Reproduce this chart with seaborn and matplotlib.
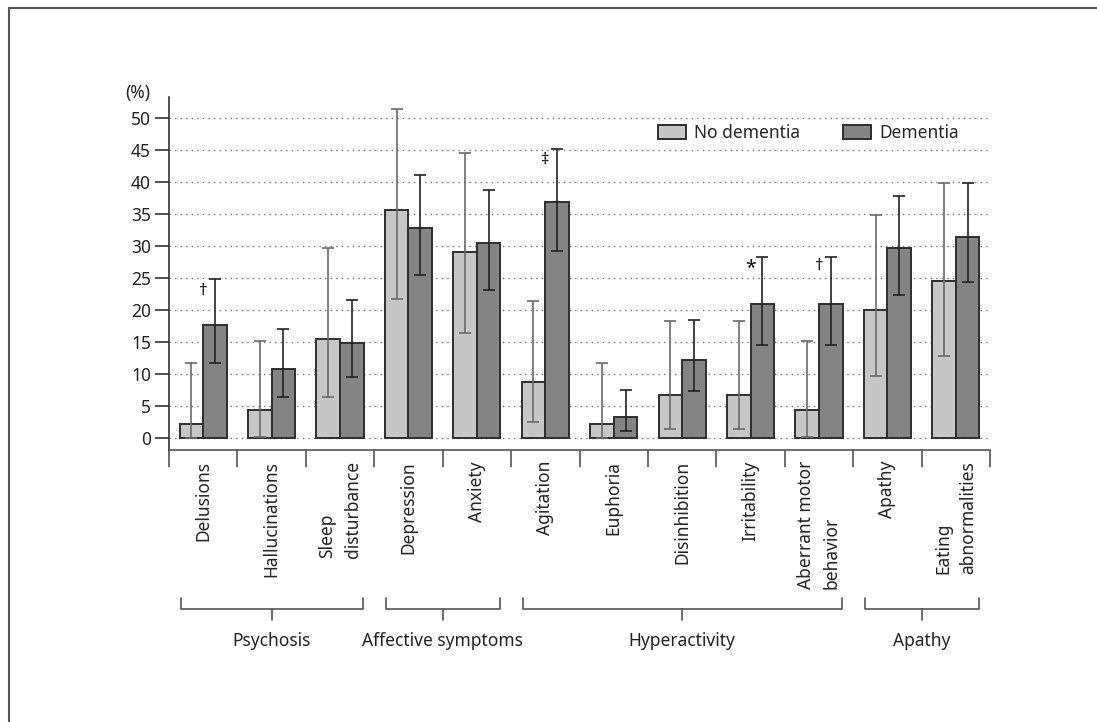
#libraries

import pandas as pd
import numpy as np
import matplotlib
matplotlib.use("Agg")
import matplotlib.pyplot as plt
import matplotlib.transforms as mtransforms
import matplotlib.patches as mpatches
from matplotlib.lines import Line2D
import seaborn as sns

# data (%, with lower / upper CI ends)

symptoms = ["Delusions", "Hallucinations", "Sleep\ndisturbance", "Depression", "Anxiety",
            "Agitation", "Euphoria", "Disinhibition", "Irritability", "Aberrant motor\nbehavior",
            "Apathy", "Eating\nabnormalities"]

no_dem = [2.2, 4.4, 15.5, 35.6, 29.0, 8.8, 2.2, 6.8, 6.8, 4.4, 20.0, 24.6]
no_dem_lo = [0.0, 0.3, 6.5, 21.8, 16.5, 2.6, 0.0, 1.5, 1.5, 0.3, 9.7, 12.8]
no_dem_hi = [11.8, 15.2, 29.6, 51.3, 44.4, 21.4, 11.7, 18.3, 18.3, 15.2, 34.8, 39.8]

dem = [17.6, 10.8, 14.8, 32.8, 30.5, 36.9, 3.4, 12.2, 21.0, 21.0, 29.6, 31.4]
dem_lo = [11.8, 6.4, 9.5, 25.5, 23.2, 29.2, 1.1, 7.4, 14.6, 14.6, 22.4, 24.3]
dem_hi = [24.8, 17.0, 21.6, 41.1, 38.7, 45.1, 7.6, 18.4, 28.2, 28.2, 37.8, 39.8]

groups = ["Psychosis", "Affective symptoms", "Hyperactivity", "Apathy"]
group_first = [0, 3, 5, 10]
group_last = [2, 4, 9, 11]

marks = ["\u2020", "\u2021", "*", "\u2020"]
mark_idx = [0, 5, 8, 9]
mark_y = [22.9, 43.4, 26.4, 26.9]

hue_names = ["No dementia", "Dementia"]
colors = ["#c6c6c6", "#848484"]

df = pd.DataFrame({
    "symptom": symptoms * 2,
    "pct": no_dem + dem,
    "group": [hue_names[0]] * len(symptoms) + [hue_names[1]] * len(symptoms),
})

sns.set_style("white")
plt.rcParams["font.family"] = ["Noto Sans", "DejaVu Sans"]

fig = plt.figure(figsize=(10.97, 7.22), dpi=100)
ax = fig.add_axes([169 / 1097, 1 - 450 / 722, 821 / 1097, 353 / 722])

sns.barplot(data=df, x="symptom", y="pct", hue="group", palette=colors,
            width=0.69, gap=0, errorbar=None, edgecolor="#2e2e2e", linewidth=1.4,
            saturation=1, legend=False, ax=ax, zorder=2)

# error bars, using the bar centres from seaborn
err_cols = ["#6a6a6a", "#222222"]
for k, (vals, lo, hi) in enumerate([(no_dem, no_dem_lo, no_dem_hi), (dem, dem_lo, dem_hi)]):
    xs = [p.get_x() + p.get_width() / 2 for p in ax.containers[k]]
    v = np.array(vals)
    yerr = [v - np.array(lo), np.array(hi) - v]
    ax.errorbar(xs, v, yerr=yerr, fmt="none", ecolor=err_cols[k], elinewidth=1.2,
                capsize=4.5, capthick=1.2, zorder=3)

# significance marks
for m, i, yv in zip(marks, mark_idx, mark_y):
    fs = 14 if m == "*" else 12
    ax.text(i, yv, m, ha="center", va="center", fontsize=fs, color="#111111")

# axes styling
ax.set_ylim(-1.8, 53.2)
ax.set_xlim(-0.5, len(symptoms) - 0.5)
ax.set_yticks(range(0, 51, 5))
ax.yaxis.grid(True, linestyle=(0, (1, 3)), color="#777777", linewidth=1.0)
ax.set_axisbelow(True)
ax.tick_params(axis="y", length=10, width=1.2, color="#333333", labelsize=12.5,
               labelcolor="#222222", pad=3, left=True)
ax.set_xticks(range(len(symptoms)))
ax.set_xticklabels(symptoms, rotation=90, va="top", ha="center", fontsize=12.5,
                   multialignment="left", linespacing=1.5, color="#222222")
ax.set_xticks(np.arange(-0.5, len(symptoms), 1), minor=True)
ax.tick_params(axis="x", which="major", length=0, pad=8)
ax.tick_params(axis="x", which="minor", length=12, width=1.2, color="#555555", bottom=True)
ax.set_xlabel("")
ax.set_ylabel("")
for s in ["top", "right"]:
    ax.spines[s].set_visible(False)
ax.spines["left"].set_color("#333333")
ax.spines["left"].set_linewidth(1.2)
ax.spines["bottom"].set_color("#555555")
ax.spines["bottom"].set_linewidth(1.2)

# legend
handles = [mpatches.Patch(facecolor=c, edgecolor="#2e2e2e", linewidth=1.4) for c in colors]
ax.legend(handles, hue_names, loc="center left", bbox_to_anchor=(0.596, 0.898), ncol=2,
          frameon=False, fontsize=12.5, handlelength=1.6, handleheight=0.9,
          handletextpad=0.45, columnspacing=2.5, borderaxespad=0, borderpad=0)

fig.text(138 / 1097, 1 - 93 / 722, "(%)", ha="center", va="center", fontsize=12.5,
         color="#222222")

# group brackets under the tick labels
trans = mtransforms.blended_transform_factory(ax.transData, fig.transFigure)
y_end = 1 - 597.7 / 722
y_bar = 1 - 609 / 722
y_mid = 1 - 620 / 722
y_lab = 1 - 641 / 722
for name, a, b in zip(groups, group_first, group_last):
    x0, x1 = a - 0.33, b + 0.34
    xm = (a + b) / 2
    fig.add_artist(Line2D([x0, x0, x1, x1], [y_end, y_bar, y_bar, y_end], transform=trans,
                          color="#555555", linewidth=1.2))
    fig.add_artist(Line2D([xm, xm], [y_bar, y_mid], transform=trans,
                          color="#555555", linewidth=1.2))
    fig.text(xm, y_lab, name, transform=trans, ha="center", va="center", fontsize=12.5,
             color="#222222")

# border lines of the original panel
fig.add_artist(Line2D([9 / 1097, 1], [1 - 7.5 / 722] * 2, transform=fig.transFigure,
                      color="#555555", linewidth=1.5))
fig.add_artist(Line2D([9 / 1097] * 2, [0, 1 - 7.5 / 722], transform=fig.transFigure,
                      color="#555555", linewidth=1.5))

fig.savefig("out.png", dpi=100)
